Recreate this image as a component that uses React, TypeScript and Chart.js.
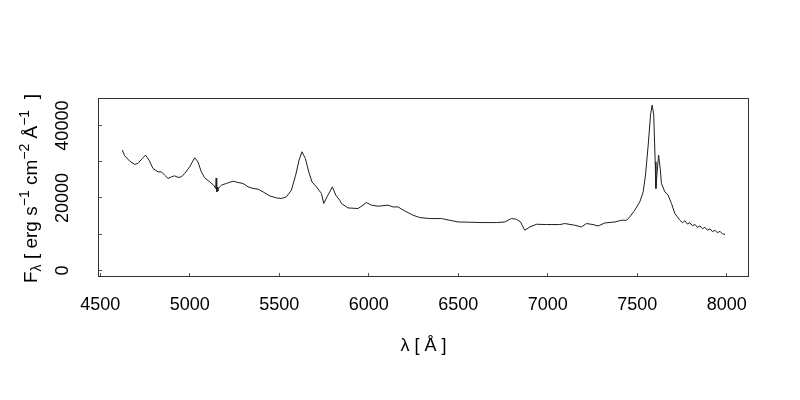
import React, { useEffect, useRef } from "react";
import { Chart, registerables } from "chart.js";

Chart.register(...registerables);

const wavelength = [
  4624, 4637, 4665, 4693, 4711, 4736, 4754, 4773, 4795, 4823, 4842, 4860, 4879, 4898, 4916, 4935,
  4954, 4972, 5000, 5028, 5046, 5065, 5084, 5112, 5134, 5145, 5148, 5151, 5154, 5157, 5161, 5177,
  5205, 5242, 5270, 5298, 5326, 5354, 5382, 5410, 5447, 5484, 5512, 5540, 5568, 5592, 5611, 5627,
  5646, 5665, 5683, 5708, 5736, 5749, 5767, 5797, 5816, 5838, 5848, 5884, 5940, 5968, 5987, 6015,
  6052, 6108, 6136, 6164, 6201, 6248, 6285, 6341, 6406, 6453, 6499, 6565, 6639, 6714, 6760, 6797,
  6825, 6848, 6862, 6872, 6900, 6937, 6993, 7067, 7095, 7151, 7188, 7216, 7253, 7281, 7319, 7375,
  7412, 7440, 7458, 7486, 7514, 7533, 7546, 7561, 7574, 7583, 7592, 7600, 7604, 7611, 7619, 7628,
  7635, 7654, 7672, 7691, 7710, 7738, 7752, 7766, 7780, 7794, 7808, 7822, 7836, 7850, 7864, 7878,
  7892, 7906, 7920, 7934, 7948, 7962, 7976, 7990,
];

const flux = [
  33240, 31660, 30190, 29280, 29560, 30940, 31860, 30470, 28170, 27230, 27230, 26320, 25400, 25840, 26120, 25680,
  25840, 26790, 28610, 31110, 30000, 27230, 25570, 24460, 23550, 22630, 25500, 21700, 23000, 21900, 22700, 23550,
  24020, 24650, 24290, 24020, 23070, 22630, 22440, 21690, 20580, 20030, 19860, 20300, 22160, 26320, 30470, 32770,
  30940, 27230, 24460, 23070, 21250, 18480, 20300, 23070, 20780, 19390, 18480, 17260, 17090, 18010, 18750, 18010,
  17730, 18010, 17530, 17530, 16430, 15240, 14600, 14320, 14320, 13850, 13380, 13300, 13210, 13210, 13380, 14320,
  14130, 13380, 11990, 11080, 11990, 12740, 12660, 12660, 12940, 12470, 11990, 12940, 12660, 12270, 13100, 13380,
  13850, 13850, 14760, 16620, 18920, 21690, 26320, 34630, 42940, 45700, 42940, 30000, 22630, 27230, 31860, 28170,
  24020, 21690, 20780, 18480, 15710, 13850, 13200, 13700, 12800, 13200, 12300, 12700, 11900, 12300, 11500, 11900,
  11100, 11500, 10700, 11100, 10400, 10800, 10100, 9900,
];

const xTickValues = [4500, 5000, 5500, 6000, 6500, 7000, 7500, 8000];
const yTickValues = [0, 10000, 20000, 30000, 40000];
const yTickLabels = ["0", "", "20000", "", "40000"];
const xTitle = "λ [ Å ]";
const yTitleParts: { t: string; k: "n" | "sub" | "sup" }[] = [
  { t: "F", k: "n" },
  { t: "λ", k: "sub" },
  { t: " [ erg s", k: "n" },
  { t: "−1", k: "sup" },
  { t: " cm", k: "n" },
  { t: "−2", k: "sup" },
  { t: " Å", k: "n" },
  { t: "−1", k: "sup" },
  { t: "  ]", k: "n" },
];

const FONT = "'Liberation Sans', Arial, Helvetica, sans-serif";

const framePlugin = {
  id: "frame",
  afterDraw(chart: any) {
    const { ctx, chartArea: a } = chart;
    ctx.save();
    ctx.strokeStyle = "#333";
    ctx.lineWidth = 1;
    ctx.strokeRect(Math.round(a.left) + 0.5, Math.round(a.top) + 0.5, Math.round(a.right - a.left) - 1, Math.round(a.bottom - a.top) - 1);

    // y-axis title with sub/superscripts
    const main = `19px ${FONT}`;
    const small = `14px ${FONT}`;
    let total = 0;
    const widths = yTitleParts.map((p) => {
      ctx.font = p.k === "n" ? main : small;
      const w = ctx.measureText(p.t).width;
      total += w;
      return w;
    });
    const cy = (a.top + a.bottom) / 2 + 1;
    ctx.translate(37, cy);
    ctx.rotate(-Math.PI / 2);
    ctx.fillStyle = "#000";
    ctx.textBaseline = "alphabetic";
    ctx.textAlign = "left";
    let x = -total / 2;
    yTitleParts.forEach((p, i) => {
      ctx.font = p.k === "n" ? main : small;
      const dy = p.k === "sub" ? 4 : p.k === "sup" ? -8 : 0;
      ctx.fillText(p.t, x, dy);
      x += widths[i];
    });
    ctx.restore();
  },
};

export default function App() {
  const ref = useRef<HTMLCanvasElement | null>(null);

  useEffect(() => {
    if (!ref.current) return;
    const chart = new Chart(ref.current, {
      type: "line",
      data: {
        datasets: [
          {
            data: wavelength.map((x, i) => ({ x, y: flux[i] })),
            borderColor: "#1e1e1e",
            borderWidth: 1,
            pointRadius: 0,
            tension: 0,
            fill: false,
          },
        ],
      },
      options: {
        responsive: false,
        animation: false,
        devicePixelRatio: 1,
        layout: { padding: { left: 0, top: 98, right: 51, bottom: 0 } },
        plugins: { legend: { display: false }, tooltip: { enabled: false } },
        scales: {
          x: {
            type: "linear",
            min: 4488,
            max: 8124,
            afterBuildTicks: (s: any) => {
              s.ticks = xTickValues.map((v) => ({ value: v }));
            },
            afterFit: (s: any) => {
              s.height = 123;
            },
            grid: { drawOnChartArea: false, drawTicks: true, tickLength: -4, color: "#555" },
            border: { display: false },
            ticks: {
              autoSkip: false,
              maxRotation: 0,
              minRotation: 0,
              padding: 21,
              color: "#000",
              font: { family: FONT, size: 18 },
              callback: (v: any) => String(v),
            },
            title: {
              display: true,
              text: xTitle,
              color: "#000",
              font: { family: FONT, size: 18 },
              padding: { top: 0, bottom: 43 },
            },
          },
          y: {
            type: "linear",
            min: -1830,
            max: 47630,
            afterBuildTicks: (s: any) => {
              s.ticks = yTickValues.map((v) => ({ value: v }));
            },
            afterFit: (s: any) => {
              s.width = 98;
            },
            grid: { drawOnChartArea: false, drawTicks: true, tickLength: -4, color: "#555" },
            border: { display: false },
            ticks: {
              autoSkip: false,
              minRotation: 90,
              maxRotation: 90,
              crossAlign: "center",
              padding: 14,
              color: "#000",
              font: { family: FONT, size: 18 },
              callback: (v: any) => {
                const i = yTickValues.indexOf(Number(v));
                return i >= 0 ? yTickLabels[i] : "";
              },
            },
          },
        },
      },
      plugins: [framePlugin],
    } as any);
    return () => chart.destroy();
  }, []);

  return (
    <div style={{ position: "fixed", left: 0, top: 0, width: 800, height: 400, background: "#fff" }}>
      <canvas ref={ref} width={800} height={400} style={{ display: "block" }} />
    </div>
  );
}
